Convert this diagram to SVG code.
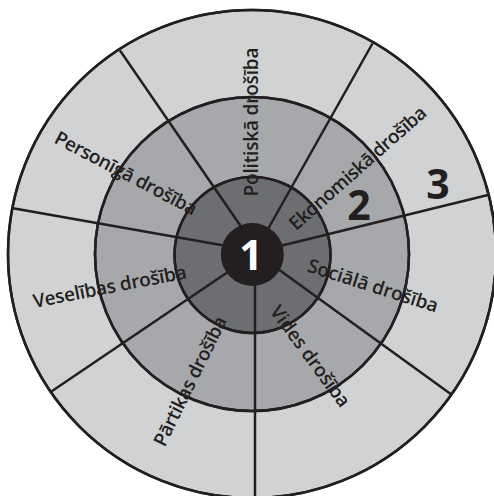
<svg xmlns="http://www.w3.org/2000/svg" width="494" height="496" viewBox="0 0 494 496">
  <style>
    .ring { stroke: #231f20; stroke-width: 2.5; }
    .div { stroke: #231f20; stroke-width: 2.5; fill: none; }
    .lbl { font-family: "Open Sans", "Noto Sans", "DejaVu Sans", sans-serif; font-size: 19px; font-weight: 600; fill: #231f20; text-anchor: middle; }
    .num { font-family: "Open Sans", "Noto Sans", "DejaVu Sans", sans-serif; font-weight: bold; font-size: 41px; fill: #231f20; text-anchor: middle; }
  </style>
  <rect width="494" height="496" fill="#ffffff"/>
  <g id="ring3">
    <circle class="ring" cx="252" cy="254" r="244" fill="#d1d2d4"/>
  </g>
  <g id="ring2">
    <circle class="ring" cx="252" cy="254" r="157" fill="#a7a8ab"/>
  </g>
  <g id="ring1">
    <circle class="ring" cx="252.5" cy="255" r="78" fill="#6d6e71"/>
  </g>
  <g id="connectors">
    <line class="div" x1="242" y1="228" x2="120" y2="50.5"/>
    <line class="div" x1="268" y1="229" x2="372.5" y2="43.5"/>
    <line class="div" x1="280" y1="246" x2="489" y2="194.8"/>
    <line class="div" x1="224" y1="245.5" x2="13" y2="208.3"/>
    <line class="div" x1="229" y1="271.3" x2="51" y2="391.7"/>
    <line class="div" x1="278" y1="269" x2="450.7" y2="394"/>
    <line class="div" x1="255" y1="283" x2="255" y2="498"/>
  </g>
  <g id="rings-outline">
    <circle class="ring" cx="252" cy="254" r="244" fill="none"/>
    <circle class="ring" cx="252" cy="254" r="157" fill="none"/>
    <circle class="ring" cx="252.5" cy="255" r="78" fill="none"/>
  </g>
  <g id="center">
    <circle cx="252.3" cy="254.5" r="31.5" fill="#231f20"/>
    <text class="num" x="251" y="269.5" font-size="40" style="fill:#ffffff">1</text>
  </g>
  <g id="num2"><text class="num" x="359" y="220">2</text></g>
  <g id="num3"><text class="num" x="438" y="199">3</text></g>
  <g id="politiska"><text class="lbl" transform="translate(258,122) rotate(-90)" textLength="149" lengthAdjust="spacing">Politiskā drošība</text></g>
  <g id="ekonomiska"><text class="lbl" transform="translate(362,173) rotate(-41.5)" textLength="176" lengthAdjust="spacing">Ekonomiskā drošība</text></g>
  <g id="personiga"><text class="lbl" transform="translate(123,179) rotate(27.8)" textLength="158" lengthAdjust="spacing">Personīgā drošība</text></g>
  <g id="veselibas"><text class="lbl" transform="translate(111,293) rotate(-11)" textLength="156" lengthAdjust="spacing">Veselības drošība</text></g>
  <g id="sociala"><text class="lbl" transform="translate(371,292) rotate(17.7)" textLength="136" lengthAdjust="spacing">Sociālā drošība</text></g>
  <g id="partikas"><text class="lbl" transform="translate(196,384) rotate(-63.8)" textLength="142" lengthAdjust="spacing">Pārtikas drošība</text></g>
  <g id="vides"><text class="lbl" transform="translate(305,360) rotate(53.7)" textLength="121" lengthAdjust="spacing">Vides drošība</text></g>
</svg>
